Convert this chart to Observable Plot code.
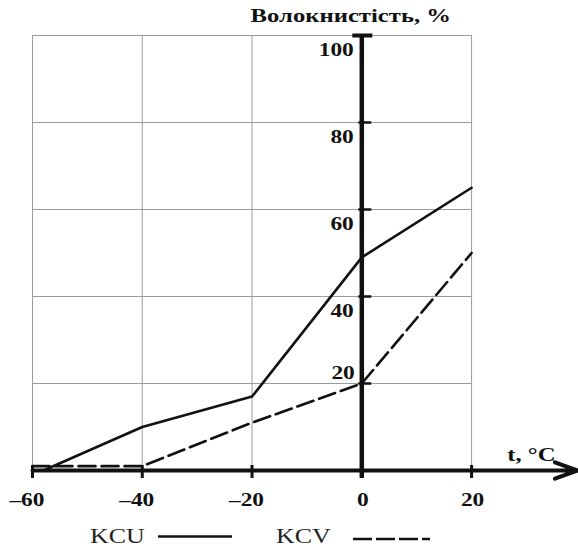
<!DOCTYPE html>
<html>
<head>
<meta charset="utf-8">
<script src="https://cdn.jsdelivr.net/npm/d3@7"></script>
<script src="https://cdn.jsdelivr.net/npm/@observablehq/plot@0.6"></script>
<style>
  body { margin: 0; background: #fff; }
  #chart svg { display: block; }
</style>
</head>
<body>
<div id="chart"></div>
<script>
// Test temperature, °C (x ticks) and fibrous fraction, % (y ticks)
const tempTicks = [-60, -40, -20, 0, 20];
const fibreTicks = [20, 40, 60, 80, 100];

// KCU specimens
const kcuTemp = [-58, -40, -20, 0, 20];
const kcuFibre = [0, 10, 17, 49, 65];

// KCV specimens
const kcvTemp = [-60, -40, -20, 0, 20];
const kcvFibre = [1, 1, 11, 20, 50];

const seriesNames = ["KCU", "KCV"];
const yTitle = "Волокнистість, %";
const xTitle = "t, °C";

// Layout
const W = 578, H = 520;
const mL = 32, mR = 1, mT = 35, mB = 50;
const xMin = -60, xMax = 20, xArrow = 39.3;   // x axis runs past the grid to an arrow head
const ux = (xArrow - xMin) / (W - mL - mR);   // data units per pixel
const uy = 100 / (H - mT - mB);
const grid = "#9c9c9c";
const ink = "#111";
const serif = "'Liberation Serif', 'Times New Roman', serif";
const stretch = 1.3;

const kcu = kcuTemp.map((t, i) => ({t, f: kcuFibre[i]}));
const kcv = kcvTemp.map((t, i) => ({t, f: kcvFibre[i]}));
const fmtTemp = t => (t < 0 ? "\u2013" + Math.abs(t) : String(t));
const tickFont = {fontSize: 18, fontWeight: "bold", fill: ink};

const plot = Plot.plot({
  width: W,
  height: H,
  marginLeft: mL,
  marginRight: mR,
  marginTop: mT,
  marginBottom: mB,
  style: {fontFamily: serif, background: "#fff", overflow: "visible"},
  x: {domain: [xMin, xArrow], axis: null},
  y: {domain: [0, 100], axis: null},
  marks: [
    // grid
    Plot.ruleY(fibreTicks, {x1: xMin, x2: xMax, stroke: grid, strokeWidth: 1}),
    Plot.ruleX(tempTicks.filter(t => t !== 0), {y1: 0, y2: 100, stroke: grid, strokeWidth: 1}),

    // data series
    Plot.line(kcu, {x: "t", y: "f", stroke: ink, strokeWidth: 2.6}),
    Plot.line(kcv, {x: "t", y: "f", stroke: ink, strokeWidth: 2.6, strokeDasharray: "17,6"}),

    // axes
    Plot.arrow([0], {x1: xMin, y1: 0, x2: xArrow, y2: 0, stroke: ink, strokeWidth: 4, headLength: 9, headAngle: 40}),
    Plot.ruleX([0], {y1: -8 * uy, y2: 100, stroke: ink, strokeWidth: 4.5}),
    Plot.ruleX(tempTicks.filter(t => t !== 0), {y1: -8 * uy, y2: 5 * uy, stroke: ink, strokeWidth: 3}),
    Plot.ruleY(fibreTicks.filter(v => v !== 100), {x1: -3 * ux, x2: 10 * ux, stroke: ink, strokeWidth: 2.5}),
    Plot.ruleY([100], {x1: -9 * ux, x2: 11 * ux, stroke: ink, strokeWidth: 4}),

    // x tick labels
    Plot.text(tempTicks.filter(t => t < 0), {x: d => d, y: 0, text: fmtTemp, textAnchor: "end", dx: 12, dy: 29.5, ...tickFont}),
    Plot.text(tempTicks.filter(t => t >= 0), {x: d => d, y: 0, text: fmtTemp, textAnchor: "middle", dx: 1, dy: 29.5, ...tickFont}),

    // y tick labels
    Plot.text(fibreTicks.filter(v => v > 20), {x: 0, y: d => d, text: d => String(d), textAnchor: "end", dx: -8, dy: 15, ...tickFont}),
    Plot.text(fibreTicks.filter(v => v === 20), {x: 0, y: d => d, text: d => String(d), textAnchor: "end", dx: -7, dy: -10, ...tickFont}),

    // axis titles
    Plot.text([yTitle], {x: 0, y: 100, text: d => d, textAnchor: "middle", dx: -11, dy: -20, fontSize: 19, fontWeight: "bold", fill: ink}),
    Plot.text([xTitle], {x: xArrow, y: 0, text: d => d, textAnchor: "end", dx: -22, dy: -16, fontSize: 19, fontWeight: "bold", fill: ink})
  ]
});

// widen the serif lettering
plot.querySelectorAll("text").forEach(t => {
  t.setAttribute("transform", (t.getAttribute("transform") || "") + ` scale(${stretch},1)`);
});
document.getElementById("chart").appendChild(plot);

// legend below the chart
const legend = d3.select("#chart").append("svg")
  .attr("width", W).attr("height", 30)
  .style("display", "block");
const legendItems = [
  {name: seriesNames[0], tx: 90, x1: 158, x2: 232, y: 16.5, dash: null},
  {name: seriesNames[1], tx: 276, x1: 353, x2: 430, y: 19, dash: "19,4"}
];
legendItems.forEach(d => {
  legend.append("text")
    .attr("transform", `translate(${d.tx},23) scale(${stretch},1)`)
    .attr("font-family", serif)
    .attr("font-size", 20)
    .attr("fill", "#222")
    .text(d.name);
  legend.append("line")
    .attr("x1", d.x1).attr("x2", d.x2)
    .attr("y1", d.y).attr("y2", d.y)
    .attr("stroke", ink).attr("stroke-width", 2.6)
    .attr("stroke-dasharray", d.dash);
});
</script>
</body>
</html>
